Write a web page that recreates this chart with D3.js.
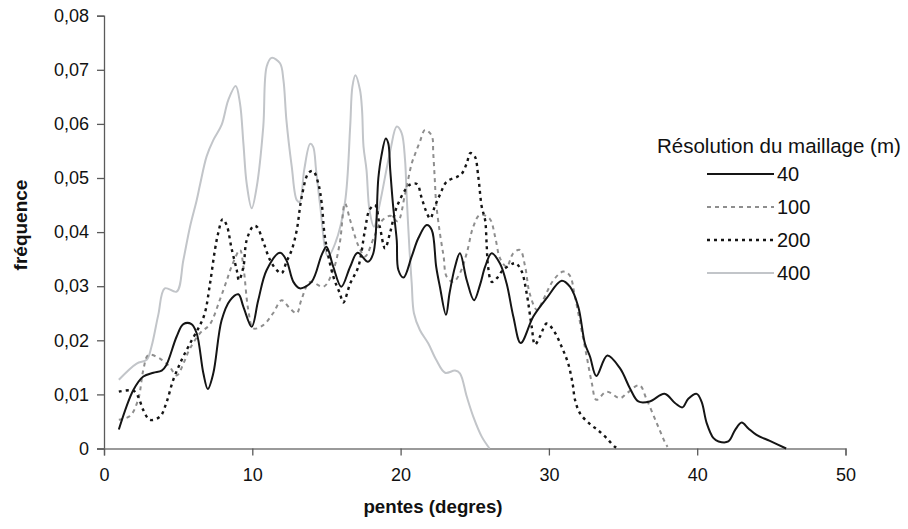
<!DOCTYPE html>
<html>
<head>
<meta charset="utf-8">
<script src="https://cdn.jsdelivr.net/npm/d3@7"></script>
<style>
  html, body { margin: 0; padding: 0; background: #fff; }
  svg { display: block; font-family: "Liberation Sans", Arial, sans-serif; }
</style>
</head>
<body>
<svg id="chart" width="908" height="529"></svg>
<script>
// ---- data ----
const xTicks = [0, 10, 20, 30, 40, 50];
const yTicks = [0, 0.01, 0.02, 0.03, 0.04, 0.05, 0.06, 0.07, 0.08];
const seriesNames = ["40", "100", "200", "400"];
const legendTitle = "Résolution du maillage (m)";

const s40 = [[1.0,0.0035],[1.98,0.0108],[2.65,0.0133],[3.33,0.014],[3.89,0.0144],[4.2,0.0154],[4.9,0.0207],[5.35,0.023],[5.9,0.023],[6.25,0.0213],[6.7,0.0139],[7.0,0.011],[7.37,0.0139],[7.93,0.0237],[8.5,0.0274],[9.06,0.0285],[9.4,0.0262],[9.96,0.0225],[10.4,0.0274],[10.97,0.033],[11.87,0.0362],[12.3,0.0348],[12.77,0.0308],[13.2,0.0296],[14.0,0.0308],[14.68,0.0358],[15.0,0.0373],[15.46,0.0336],[16.0,0.0299],[16.6,0.0336],[17.1,0.0362],[17.8,0.0345],[18.16,0.0361],[18.5,0.050],[18.7,0.054],[19.0,0.0573],[19.17,0.0564],[19.3,0.0515],[19.5,0.0447],[19.74,0.0385],[19.85,0.033],[20.2,0.0316],[20.75,0.0355],[21.2,0.0389],[21.76,0.0413],[22.1,0.0404],[22.4,0.0336],[22.65,0.0299],[23.06,0.0247],[23.3,0.0287],[23.67,0.0336],[24.0,0.0361],[24.46,0.0311],[24.95,0.0274],[25.35,0.0302],[25.7,0.0336],[26.14,0.0361],[26.7,0.0342],[27.15,0.0305],[27.6,0.0244],[28.1,0.0195],[28.95,0.0244],[29.85,0.0278],[30.86,0.031],[31.42,0.0299],[31.98,0.0262],[32.43,0.0194],[32.77,0.017],[33.2,0.0134],[33.94,0.0172],[34.8,0.0148],[35.47,0.0111],[36.03,0.0087],[36.8,0.0087],[37.8,0.0101],[38.5,0.0084],[39.0,0.0076],[39.4,0.0092],[39.97,0.0101],[40.3,0.0086],[40.64,0.0047],[41.1,0.0019],[41.44,0.0013],[42.1,0.0013],[42.55,0.0034],[43.0,0.0048],[43.45,0.0037],[44.0,0.0025],[44.9,0.0014],[46.0,0]];

const s100 = [[1.0,0.0053],[1.75,0.006],[2.3,0.009],[2.65,0.0145],[3.0,0.0173],[3.9,0.0164],[4.4,0.0152],[4.9,0.0135],[5.4,0.016],[5.8,0.0185],[6.47,0.0213],[7.15,0.023],[7.8,0.0274],[8.27,0.031],[8.6,0.0336],[9.17,0.0367],[9.4,0.0336],[9.73,0.0256],[10.07,0.0222],[10.74,0.0228],[11.4,0.025],[11.98,0.0274],[12.54,0.0259],[13.0,0.025],[13.3,0.0274],[13.9,0.0308],[14.8,0.0299],[15.46,0.033],[15.9,0.038],[16.25,0.0453],[16.6,0.0422],[17.15,0.0375],[17.6,0.0355],[18.2,0.039],[18.7,0.042],[19.3,0.043],[19.8,0.042],[20.3,0.047],[20.75,0.0527],[21.0,0.0546],[21.3,0.0567],[21.65,0.0589],[22.1,0.0578],[22.2,0.0546],[22.3,0.050],[22.4,0.0453],[22.65,0.0398],[22.9,0.0355],[23.1,0.0318],[23.55,0.0308],[24.0,0.0324],[24.46,0.0361],[24.9,0.041],[25.35,0.0432],[26.0,0.0425],[26.37,0.0392],[26.7,0.0352],[27.15,0.0336],[27.6,0.0361],[28.05,0.0367],[28.4,0.0336],[28.7,0.0287],[29.2,0.0256],[29.6,0.0274],[30.3,0.0311],[30.97,0.0327],[31.4,0.032],[31.76,0.028],[32.2,0.0219],[32.55,0.017],[32.9,0.012],[33.2,0.009],[33.9,0.0105],[34.8,0.0093],[35.25,0.0102],[36.1,0.0117],[36.6,0.009],[37.27,0.0047],[37.8,0.0013],[38.0,0.0003]];

const s200 = [[1.0,0.0105],[1.98,0.0107],[2.3,0.0096],[2.65,0.0071],[3.1,0.0053],[3.78,0.0059],[4.2,0.0084],[4.67,0.0127],[5.24,0.0164],[5.8,0.0194],[6.47,0.0228],[6.8,0.025],[7.15,0.0305],[7.48,0.0367],[7.7,0.0398],[8.0,0.0424],[8.27,0.0413],[8.6,0.037],[8.95,0.033],[9.1,0.0311],[9.4,0.0336],[9.62,0.0385],[10.07,0.0411],[10.3,0.041],[10.74,0.0382],[11.2,0.0348],[11.64,0.033],[11.98,0.0324],[12.3,0.0345],[12.66,0.0367],[13.0,0.0404],[13.33,0.0465],[13.78,0.0509],[14.1,0.0513],[14.45,0.049],[14.68,0.0453],[14.9,0.039],[15.46,0.0318],[15.9,0.0287],[16.14,0.027],[16.6,0.0305],[17.15,0.0336],[17.6,0.0404],[17.9,0.0441],[18.27,0.045],[18.6,0.041],[18.95,0.037],[19.3,0.040],[19.75,0.0447],[20.6,0.0487],[21.1,0.0489],[21.4,0.0465],[21.7,0.044],[22.0,0.0425],[22.3,0.0447],[22.65,0.0469],[23.1,0.0493],[23.8,0.0502],[24.1,0.0507],[24.46,0.0527],[24.7,0.0546],[25.0,0.054],[25.24,0.0502],[25.47,0.0447],[25.7,0.0422],[25.8,0.0379],[25.9,0.0336],[26.14,0.0308],[26.5,0.0315],[26.9,0.033],[27.6,0.0342],[27.8,0.0342],[28.17,0.0327],[28.5,0.0287],[28.84,0.0225],[29.06,0.0192],[29.4,0.0207],[29.85,0.0231],[30.3,0.0219],[30.86,0.0188],[31.3,0.0157],[31.6,0.012],[31.76,0.009],[32.1,0.0065],[32.77,0.0045],[33.3,0.0034],[33.9,0.0019],[34.46,0.0003],[34.8,0]];

const s400 = [[1.0,0.0127],[2.2,0.0157],[2.88,0.0164],[3.2,0.0188],[3.66,0.0247],[4.1,0.0296],[4.9,0.029],[5.35,0.0348],[5.8,0.041],[6.25,0.0459],[6.47,0.0487],[6.92,0.054],[7.37,0.057],[7.93,0.0598],[8.38,0.0644],[8.88,0.067],[9.17,0.0638],[9.4,0.0564],[9.62,0.049],[9.96,0.0444],[10.3,0.0484],[10.74,0.0595],[10.97,0.0706],[11.3,0.0722],[11.87,0.0712],[12.1,0.0681],[12.3,0.0607],[12.66,0.0521],[13.0,0.0459],[13.2,0.0456],[13.5,0.0515],[13.9,0.0563],[14.1,0.0558],[14.3,0.0515],[14.56,0.0453],[15.1,0.0355],[15.6,0.038],[16.25,0.0455],[16.6,0.0595],[16.75,0.0669],[16.95,0.069],[17.26,0.0663],[17.4,0.0626],[17.5,0.0558],[17.7,0.0515],[17.9,0.0441],[18.2,0.041],[18.6,0.0453],[19.3,0.055],[19.74,0.0595],[20.07,0.0583],[20.3,0.0533],[20.4,0.0472],[20.6,0.0367],[20.75,0.0305],[20.9,0.025],[21.3,0.0219],[21.87,0.0194],[22.4,0.0164],[23.0,0.014],[23.67,0.0144],[24.0,0.0139],[24.46,0.0096],[24.9,0.0059],[25.47,0.0022],[26.0,0]];

// ---- layout ----
const svg = d3.select("#chart");
const x = d3.scaleLinear().domain([0, 50]).range([104, 845.5]);
const y = d3.scaleLinear().domain([0, 0.08]).range([448.5, 15.7]);
const fmtY = v => v === 0 ? "0" : d3.format(".2f")(v).replace(".", ",");

const styles = {
  "40":  { color: "#151515", width: 2,   dash: null },
  "100": { color: "#8e8e8e", width: 2,   dash: "4,4" },
  "200": { color: "#151515", width: 2.4, dash: "3,4" },
  "400": { color: "#c2c5c9", width: 2,   dash: null }
};
const dataByName = { "40": s40, "100": s100, "200": s200, "400": s400 };

// axes
const yAxis = d3.axisLeft(y).tickValues(yTicks).tickFormat(fmtY).tickSize(7).tickPadding(8);
const gy = svg.append("g").attr("transform", "translate(104,0)").call(yAxis);
gy.select(".domain").attr("stroke", "#5a5a5a").attr("stroke-width", 1.3);
gy.selectAll(".tick line").attr("stroke", "#5a5a5a").attr("stroke-width", 1.3);
gy.selectAll("text").attr("font-size", 18).attr("fill", "#111");

const xAxis = d3.axisBottom(x).tickValues(xTicks).tickFormat(d3.format("d")).tickSize(7).tickPadding(13);
const gx = svg.append("g").attr("transform", "translate(0,448.5)").call(xAxis);
gx.select(".domain").attr("stroke", "#7a7a7a").attr("stroke-width", 1.3);
gx.selectAll(".tick line").attr("stroke", "#5a5a5a").attr("stroke-width", 1.3);
gx.selectAll("text").attr("font-size", 18).attr("fill", "#111");

// axis titles
svg.append("text").attr("x", 433).attr("y", 513).attr("text-anchor", "middle")
  .attr("font-size", 18.7).attr("font-weight", "bold").attr("fill", "#111").text("pentes (degres)");
svg.append("text").attr("transform", "translate(27,225) rotate(-90)").attr("text-anchor", "middle")
  .attr("font-size", 19).attr("font-weight", "bold").attr("fill", "#111").text("fréquence");

// lines
const line = d3.line().x(d => x(d[0])).y(d => y(d[1])).curve(d3.curveCatmullRom.alpha(0.5));
["400", "100", "200", "40"].forEach(name => {
  const st = styles[name];
  svg.append("path").datum(dataByName[name])
    .attr("fill", "none").attr("stroke", st.color).attr("stroke-width", st.width)
    .attr("stroke-dasharray", st.dash).attr("stroke-linejoin", "round")
    .attr("d", line);
});

// legend
svg.append("text").attr("x", 657).attr("y", 153).attr("font-size", 20.5).attr("fill", "#111").text(legendTitle);
const legY = d3.scalePoint().domain(seriesNames).range([174, 273]);
seriesNames.forEach(name => {
  const st = styles[name];
  const ly = legY(name);
  svg.append("line").attr("x1", 707).attr("x2", 774).attr("y1", ly).attr("y2", ly)
    .attr("stroke", st.color).attr("stroke-width", st.width).attr("stroke-dasharray", st.dash);
  svg.append("text").attr("x", 777).attr("y", ly + 7).attr("font-size", 20).attr("fill", "#111").text(name);
});
</script>
</body>
</html>
